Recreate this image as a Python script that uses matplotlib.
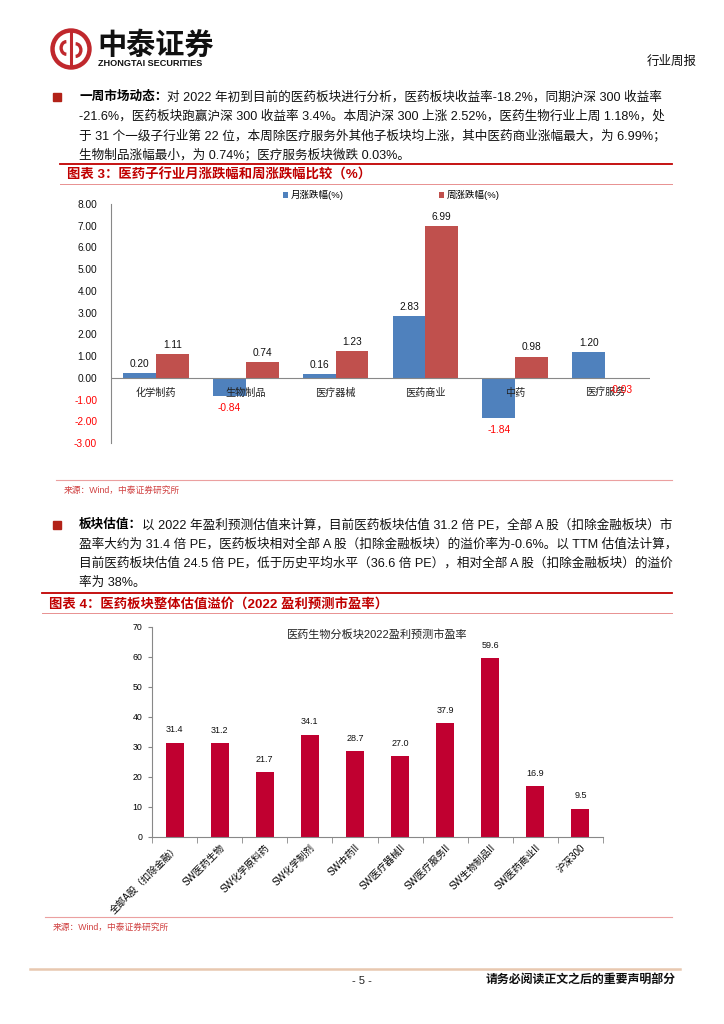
import numpy as np
import matplotlib
matplotlib.use('Agg')
import matplotlib.pyplot as plt
from matplotlib.patches import Circle, Rectangle, Arc

plt.rcParams['font.family'] = ['Liberation Sans', 'Noto Sans CJK SC', 'DejaVu Sans']

W, H = 724, 1024

# chart 3 data
sub_industries = ['化学制药', '生物制品', '医疗器械', '医药商业', '中药', '医疗服务']
month_chg = [0.20, -0.84, 0.16, 2.83, -1.84, 1.20]
week_chg = [1.11, 0.74, 1.23, 6.99, 0.98, -0.03]
month_name = '月涨跌幅(%)'
week_name = '周涨跌幅(%)'

# chart 4 data
pe_labels = ['全部A股（扣除金融）', 'SW医药生物', 'SW化学原料药', 'SW化学制剂', 'SW中药II',
             'SW医疗器械II', 'SW医疗服务II', 'SW生物制品II', 'SW医药商业II', '沪深300']
pe_values = [31.4, 31.2, 21.7, 34.1, 28.7, 27.0, 37.9, 59.6, 16.9, 9.5]
pe_title = '医药生物分板块2022盈利预测市盈率'

para1_bold = '一周市场动态：'
para1 = ['对 2022 年初到目前的医药板块进行分析，医药板块收益率-18.2%，同期沪深 300 收益率',
         '-21.6%，医药板块跑赢沪深 300 收益率 3.4%。本周沪深 300 上涨 2.52%，医药生物行业上周 1.18%，处',
         '于 31 个一级子行业第 22 位，本周除医疗服务外其他子板块均上涨，其中医药商业涨幅最大，为 6.99%；',
         '生物制品涨幅最小，为 0.74%；医疗服务板块微跌 0.03%。']
para2_bold = '板块估值：'
para2 = ['以 2022 年盈利预测估值来计算，目前医药板块估值 31.2 倍 PE，全部 A 股（扣除金融板块）市',
         '盈率大约为 31.4 倍 PE，医药板块相对全部 A 股（扣除金融板块）的溢价率为-0.6%。以 TTM 估值法计算，',
         '目前医药板块估值 24.5 倍 PE，低于历史平均水平（36.6 倍 PE），相对全部 A 股（扣除金融板块）的溢价',
         '率为 38%。']
cap3 = '图表 3：医药子行业月涨跌幅和周涨跌幅比较（%）'
cap4 = '图表 4：医药板块整体估值溢价（2022 盈利预测市盈率）'
source = '来源：Wind，中泰证券研究所'

RED = '#C00000'
fig = plt.figure(figsize=(W / 100, H / 100), dpi=100)


def fx(x):
    return x / W


def fy(y):
    return 1 - y / H


def hline(y, x0, x1, color, lw):
    fig.add_artist(plt.Line2D([fx(x0), fx(x1)], [fy(y), fy(y)], color=color, lw=lw))


# ---- header / logo
lax = fig.add_axes([fx(50), fy(70), 42 / W, 42 / H])
lax.set_xlim(-1, 1)
lax.set_ylim(-1, 1)
lax.set_aspect('equal')
lax.axis('off')
lax.add_patch(Circle((0, 0), 0.88, fill=False, ec='#C0282D', lw=3.2))
lax.plot([0, 0], [-0.88, 0.88], color='#C0282D', lw=2.2)
lax.add_patch(Arc((-0.22, 0.05), 0.5, 0.6, theta1=90, theta2=270, color='#C0282D', lw=2.4))
lax.add_patch(Arc((0.22, -0.05), 0.5, 0.6, theta1=-90, theta2=90, color='#C0282D', lw=2.4))
fig.text(fx(97), fy(45), '中泰证券', fontsize=21, fontweight='bold', va='center', ha='left',
         family=['Noto Sans CJK SC'], color='#111111')
fig.text(fx(98), fy(63), 'ZHONGTAI SECURITIES', fontsize=6.6, fontweight='bold', va='center',
         ha='left', color='#111111')
fig.text(fx(697), fy(62), '行业周报', fontsize=9, va='center', ha='right', color='#111111')

renderer = fig.canvas.get_renderer()


def paragraph(y0, bold, lines, fs=9.1, step=19.4):
    fig.add_artist(Rectangle((fx(53), fy(y0 + 4)), 8 / W, 8 / H, color='#B22218',
                             transform=fig.transFigure))
    t = fig.text(fx(79), fy(y0), bold, fontsize=fs, fontweight='bold', va='center', ha='left')
    bw = t.get_window_extent(renderer).width
    for i, line in enumerate(lines):
        x = 79 + (bw if i == 0 else 0)
        fig.text(fx(x), fy(y0 + i * step), line, fontsize=fs, va='center', ha='left',
                 color='#111111')


def caption(y_top, text, x0):
    hline(y_top, x0, 672, RED, 1.3)
    fig.text(fx(x0 + 7), fy(y_top + 11), text, fontsize=9.6, fontweight='bold', color=RED,
             va='center', ha='left')
    hline(y_top + 20, x0, 672, '#E89090', 0.7)


def src(y_line, x0):
    hline(y_line, x0, 672, '#EBA0A0', 0.8)
    fig.text(fx(x0 + 8), fy(y_line + 10), source, fontsize=6.3, color='#D04040', va='center',
             ha='left')


paragraph(97, para1_bold, para1)
caption(164, cap3, 60)
paragraph(525, para2_bold, para2)
caption(593, cap4, 42)
src(480, 56)
src(917, 45)

# ---- chart 3
ax = fig.add_axes([fx(111), fy(443), (650 - 111) / W, (443 - 204) / H])
x = np.arange(len(sub_industries))
bw = 0.365
ax.bar(x - bw / 2, month_chg, bw, color='#4F81BD', label=month_name, zorder=2)
ax.bar(x + bw / 2, week_chg, bw, color='#C0504D', label=week_name, zorder=2)
ax.set_xlim(-0.5, len(sub_industries) - 0.5)
ax.set_ylim(-3, 8)
ax.set_yticks(np.arange(-3, 9, 1))
ax.set_yticklabels(['%.2f' % v for v in np.arange(-3, 9, 1)], fontsize=7.3)
for lbl, v in zip(ax.get_yticklabels(), np.arange(-3, 9, 1)):
    lbl.set_color('#FF0000' if v < 0 else '#111111')
ax.tick_params(axis='y', length=0, pad=10)
ax.set_xticks([])
for s in ['top', 'right', 'bottom']:
    ax.spines[s].set_visible(False)
ax.spines['left'].set_color('#888888')
ax.axhline(0, color='#888888', lw=0.8, zorder=3)
for i, name in enumerate(sub_industries):
    ax.annotate(name, (i, 0), xytext=(0, -11), textcoords='offset points', ha='center',
                va='center', fontsize=7.3, color='#222222', zorder=4)
for xs, vals in [(x - bw / 2, month_chg), (x + bw / 2, week_chg)]:
    for xi, v in zip(xs, vals):
        if v >= 0:
            ax.annotate('%.2f' % v, (xi, v), xytext=(0, 3), textcoords='offset points',
                        ha='center', va='bottom', fontsize=7.3, color='#111111', zorder=4)
        else:
            ax.annotate('%.2f' % v, (xi, v), xytext=(0, -5), textcoords='offset points',
                        ha='center', va='top', fontsize=7.3, color='#FF0000', zorder=4)
ax.legend(loc='lower center', bbox_to_anchor=(0.52, 1.0), ncol=2, frameon=False, fontsize=6.8,
          handlelength=0.55, handleheight=0.55, handletextpad=0.3, columnspacing=10,
          borderaxespad=0)

# ---- chart 4
ax2 = fig.add_axes([fx(152), fy(837), (603 - 152) / W, (837 - 627) / H])
x2 = np.arange(len(pe_values))
ax2.bar(x2, pe_values, 0.4, color='#C00030', zorder=2)
ax2.set_xlim(-0.5, len(pe_values) - 0.5)
ax2.set_ylim(0, 70)
ax2.set_yticks(np.arange(0, 71, 10))
ax2.tick_params(axis='y', labelsize=6.3, length=3, color='#888888', pad=4)
ax2.set_xticks(x2)
ax2.set_xticklabels(pe_labels, rotation=45, ha='right', va='top', rotation_mode='anchor',
                    fontsize=6.9)
ax2.tick_params(axis='x', length=0, pad=4)
ax2.set_xticks(np.arange(-0.5, len(pe_values)), minor=True)
ax2.tick_params(axis='x', which='minor', length=4, color='#888888')
for s in ['top', 'right']:
    ax2.spines[s].set_visible(False)
ax2.spines['left'].set_color('#888888')
ax2.spines['bottom'].set_color('#888888')
for xi, v in zip(x2, pe_values):
    ax2.annotate('%.1f' % v, (xi, v), xytext=(0, 6), textcoords='offset points', ha='center',
                 va='bottom', fontsize=6.5, color='#111111')
ax2.set_title(pe_title, fontsize=8, color='#222222', pad=-8, y=1.0)

# ---- footer
hline(969, 30, 680, '#E8C8B0', 1.8)
fig.text(fx(362), fy(981), '- 5 -', fontsize=8, ha='center', va='center', color='#222222')
fig.text(fx(676), fy(981), '请务必阅读正文之后的重要声明部分', fontsize=8.6, fontweight='bold',
         ha='right', va='center', color='#111111')

fig.savefig('out.png', dpi=100)
